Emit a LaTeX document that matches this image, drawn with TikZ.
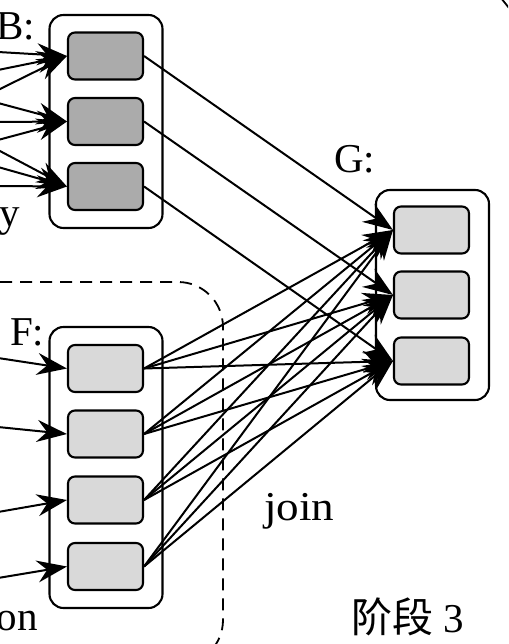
\documentclass[tikz,border=0pt]{standalone}
\usepackage{fontspec}
\setmainfont{Liberation Serif}
\newfontfamily\cjk{Noto Sans CJK SC}
\usetikzlibrary{arrows.meta}
\begin{document}
\begin{tikzpicture}[x=1pt,y=-1pt,
  cont/.style={draw, line width=2.1pt, rounded corners=14pt, minimum width=113pt, inner sep=0pt},
  boxd/.style={draw, line width=2.1pt, rounded corners=7pt, fill=black!33, minimum width=75pt, minimum height=47pt, inner sep=0pt},
  boxl/.style={boxd, fill=black!15},
  conn/.style={line width=2pt, -{Stealth[length=30pt,width=22pt,inset=10pt]}},
  lbl/.style={font=\fontsize{41}{41}\selectfont, inner sep=0pt},
  grp/.style={dashed, dash pattern=on 12pt off 8pt, line width=1.8pt, rounded corners=45pt},
]
\useasboundingbox (0,0) rectangle (508,644);
\begin{scope}
\clip (0,0) rectangle (508,644);
% containers
\node[cont, minimum height=213pt] (Bc) at (106,121.5) {};
\node[cont, minimum height=281pt] (Fc) at (106,467.5) {};
\node[cont, minimum height=210pt] (Gc) at (432.5,295) {};
% boxes
\node[boxd] (B1) at (105.5,56) {};
\node[boxd] (B2) at (105.5,121.5) {};
\node[boxd] (B3) at (105.5,186.5) {};
\node[boxl] (F1) at (105.5,368.5) {};
\node[boxl] (F2) at (105.5,434) {};
\node[boxl] (F3) at (105.5,500) {};
\node[boxl] (F4) at (105.5,566.5) {};
\node[boxl] (G1) at (431.5,230) {};
\node[boxl] (G2) at (431.5,295) {};
\node[boxl] (G3) at (431.5,361) {};
% labels
\node[lbl, anchor=base east] (lB) at (35,40) {B:};
\node[lbl, anchor=base east] (ly) at (20,226) {y};
\node[lbl, anchor=base west] (lF) at (10,345) {F:};
\node[lbl, anchor=base east] (lon) at (38,630) {on};
\node[lbl, anchor=base west] (lG) at (334,173) {G:};
\node[lbl, anchor=base west, xscale=1.1] (lj) at (264,520) {join};
\node[lbl, anchor=base west] (ls) at (351,632) {{\cjk 阶段} 3};
% dashed group
\draw[grp] (-20,282) -- (223,282) -- (223,665) -- (-20,665);
\draw[line width=1.8pt] (501,-2) -- (509,8);
% incoming coordinates
\coordinate (a1) at (-2,52);
\coordinate (a2) at (-2,70);
\coordinate (a3) at (-2,90);
\coordinate (a4) at (-2,103);
\coordinate (a5) at (-2,122);
\coordinate (a6) at (-2,140);
\coordinate (a7) at (-2,150);
\coordinate (a8) at (-2,167);
\coordinate (a9) at (-2,186);
\coordinate (f1) at (-2,358);
\coordinate (f2) at (-2,427);
\coordinate (f3) at (-2,512);
\coordinate (f4) at (-2,578);
\draw[conn] (a1) -- (B1.west);
\draw[conn] (a2) -- (B1.west);
\draw[conn] (a3) -- (B1.west);
\draw[conn] (a4) -- (B2.west);
\draw[conn] (a5) -- (B2.west);
\draw[conn] (a6) -- (B2.west);
\draw[conn] (a7) -- (B3.west);
\draw[conn] (a8) -- (B3.west);
\draw[conn] (a9) -- (B3.west);
\draw[conn] (f1) -- (F1.west);
\draw[conn] (f2) -- (F2.west);
\draw[conn] (f3) -- (F3.west);
\draw[conn] (f4) -- (F4.west);
% B -> G
\draw[conn] (B1.east) -- (G1.west);
\draw[conn] (B2.east) -- (G2.west);
\draw[conn] (B3.east) -- (G3.west);
% F -> G
\foreach \i in {1,2,3,4}{
  \foreach \j in {1,2,3}{
    \draw[conn] (F\i.east) -- (G\j.west);
  }
}
\end{scope}
\end{tikzpicture}
\end{document}
